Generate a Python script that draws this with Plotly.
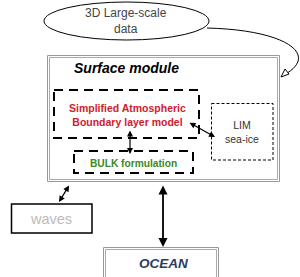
import plotly.graph_objects as go

# Diagram labels
ellipse_label = ["3D Large-scale", "data"]
module_title = "Surface module"
sabl_label = ["Simplified Atmospheric", "Boundary layer model"]
lim_label = ["LIM", "sea-ice"]
bulk_label = "BULK formulation"
waves_label = "waves"
ocean_label = "OCEAN"

W, H = 300, 277
fig = go.Figure()
fig.add_trace(go.Scatter(x=[0, W], y=[0, H], mode="markers", marker=dict(opacity=0), hoverinfo="skip"))

shapes = []
ann = []
FONT = "Liberation Sans, Arial, sans-serif"

# Ellipse
shapes.append(dict(type="circle", x0=44, y0=2, x1=209, y1=40, line=dict(color="black", width=1), fillcolor="white"))
ann.append(dict(x=126, y=21, text="<br>".join(ellipse_label), showarrow=False,
                font=dict(family=FONT, size=12, color="#444"), align="center"))

# Curved arrow
shapes.append(dict(type="path", path="M 207 28 C 287 30, 320 55, 284 75", line=dict(color="black", width=1)))
shapes.append(dict(type="path", path="M 281 77 L 285 69 L 289 74 Z", line=dict(color="black", width=1), fillcolor="white"))

# Surface module double box
shapes.append(dict(type="rect", x0=47.5, y0=55.5, x1=279.5, y1=181.5, line=dict(color="#999", width=1)))
shapes.append(dict(type="rect", x0=49.5, y0=57.5, x1=277.5, y1=179.5, line=dict(color="#aaa", width=1)))
ann.append(dict(x=126, y=68, text="<b><i>" + module_title + "</i></b>", showarrow=False,
                font=dict(family=FONT, size=14, color="black")))

# SABL dashed box
shapes.append(dict(type="rect", x0=54, y0=90, x1=199, y1=138, line=dict(color="black", width=2, dash="9px,6px")))
ann.append(dict(x=127, y=115, text="<b>" + "<br>".join(sabl_label) + "</b>", showarrow=False,
                font=dict(family=FONT, size=10.5, color="#d0202e"), align="center"))

# LIM dotted box
shapes.append(dict(type="rect", x0=211.5, y0=103.5, x1=273, y1=160, line=dict(color="black", width=1, dash="3px,2px")))
ann.append(dict(x=242, y=131.5, text="<br>".join(lim_label), showarrow=False,
                font=dict(family=FONT, size=10.5, color="#333333"), align="center"))

# BULK dashed box
shapes.append(dict(type="rect", x0=74, y0=151, x1=193, y1=173, line=dict(color="black", width=2, dash="9px,6px")))
ann.append(dict(x=133, y=163, text="<b>" + bulk_label + "</b>", showarrow=False,
                font=dict(family=FONT, size=10.2, color="#3a8a1e")))

# waves box
shapes.append(dict(type="rect", x0=11.5, y0=204, x1=92, y1=233, line=dict(color="black", width=1.5)))
ann.append(dict(x=51, y=219, text=waves_label, showarrow=False,
                font=dict(family=FONT, size=14.5, color="#bbbbbb")))

# OCEAN double box
shapes.append(dict(type="rect", x0=103.5, y0=247.5, x1=218.5, y1=290, line=dict(color="#999", width=1)))
shapes.append(dict(type="rect", x0=105.5, y0=249.5, x1=216.5, y1=290, line=dict(color="#aaa", width=1)))
ann.append(dict(x=163, y=263, text="<b><i>" + ocean_label + "</i></b>", showarrow=False,
                font=dict(family=FONT, size=13.5, color="#2c3b5e")))

# Double-headed arrows
def darrow(x0, y0, x1, y1, w=1.2):
    ann.append(dict(x=x1, y=y1, ax=x0, ay=y0, xref="x", yref="y", axref="x", ayref="y",
                    text="", showarrow=True, arrowhead=2, startarrowhead=2, arrowside="end+start",
                    arrowsize=1, startarrowsize=1, arrowwidth=w, arrowcolor="black", standoff=0, startstandoff=0))

darrow(130, 129, 130, 154)
darrow(188, 122, 215, 137)
darrow(70, 184, 59, 202)
darrow(163, 184, 163, 247, 1.8)

fig.update_layout(width=W, height=H, margin=dict(l=0, r=0, t=0, b=0),
                  plot_bgcolor="white", paper_bgcolor="white", showlegend=False,
                  xaxis=dict(range=[0, W], visible=False, fixedrange=True),
                  yaxis=dict(range=[H, 0], visible=False, fixedrange=True),
                  shapes=shapes, annotations=ann)
fig.write_html("out.html", config={"displayModeBar": False},
               post_script="document.body.style.margin='0';document.body.style.overflow='hidden';")
